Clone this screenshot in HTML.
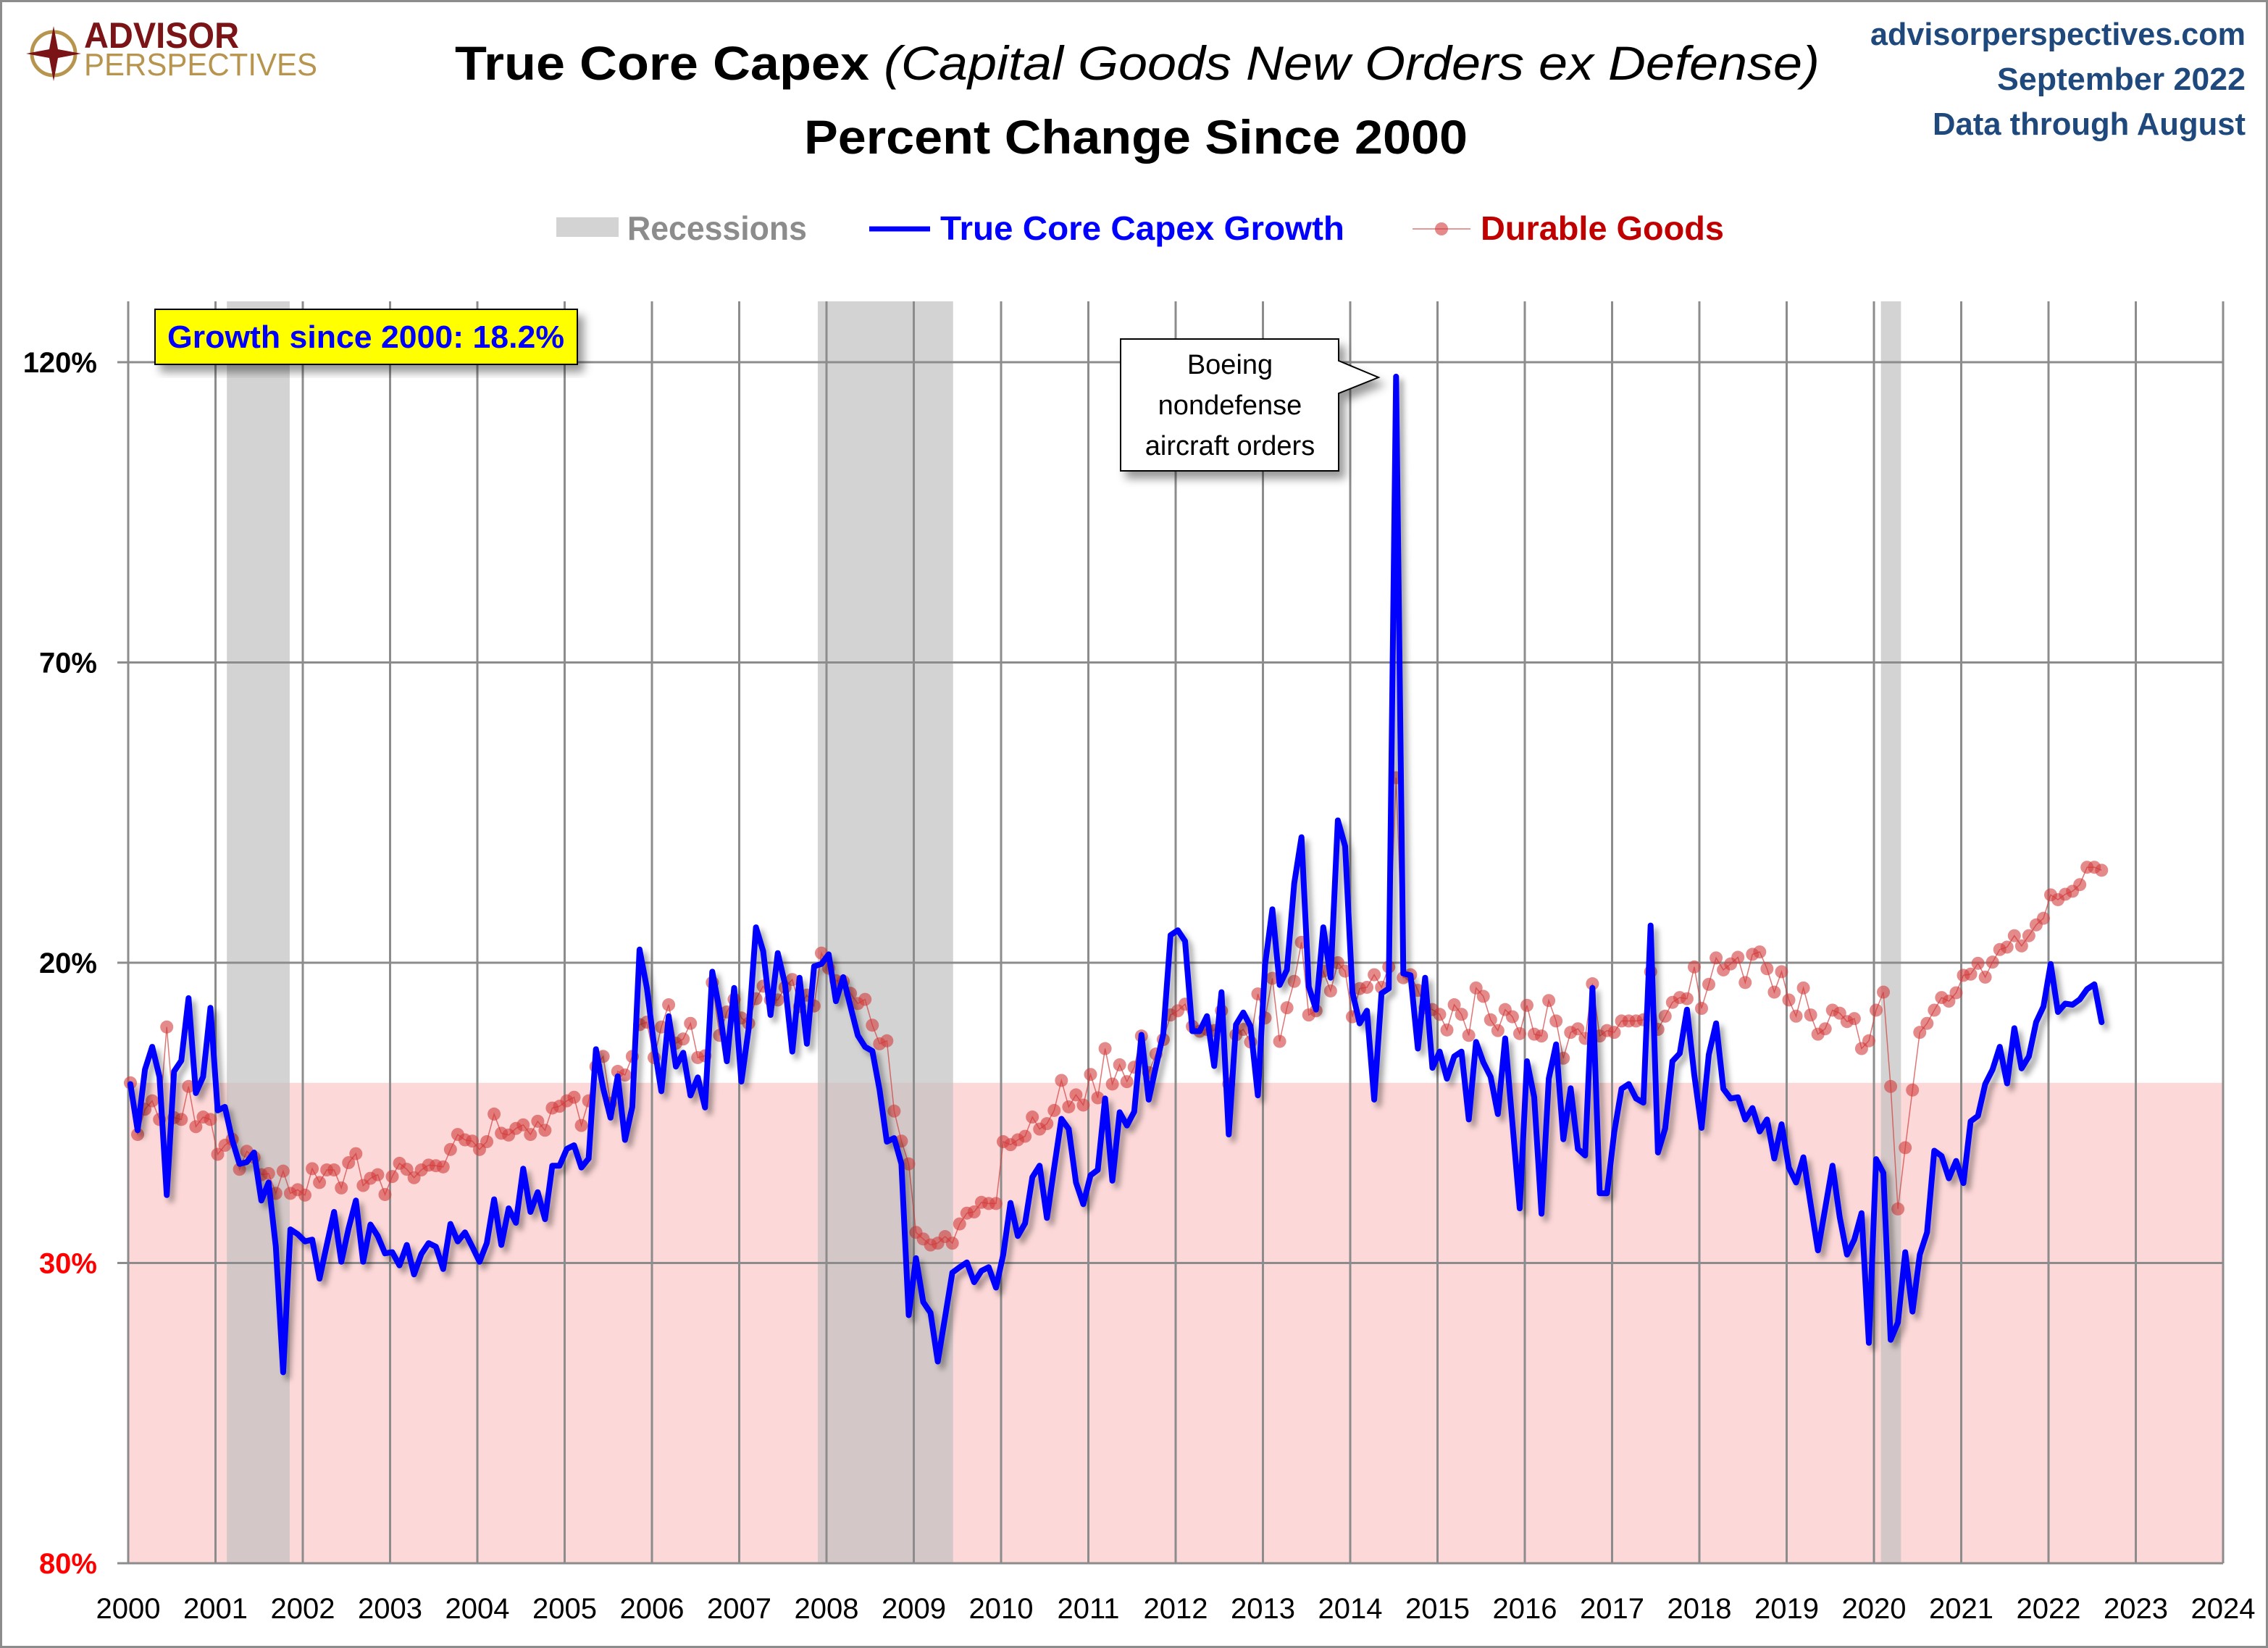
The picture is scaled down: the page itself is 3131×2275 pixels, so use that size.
<!DOCTYPE html>
<html><head><meta charset="utf-8"><title>True Core Capex</title>
<style>
html,body{margin:0;padding:0;background:#fff;}
svg{display:block;}
text{font-family:"Liberation Sans",sans-serif;}
</style></head>
<body>
<svg id="chart" xmlns="http://www.w3.org/2000/svg" width="3131" height="2275" viewBox="0 0 3131 2275">
<defs>
<filter id="shadow" x="-5%" y="-5%" width="110%" height="110%"><feDropShadow dx="6" dy="7" stdDeviation="4" flood-color="#000" flood-opacity="0.35"/></filter>
<filter id="boxshadow" x="-10%" y="-10%" width="125%" height="135%"><feDropShadow dx="8" dy="10" stdDeviation="6" flood-color="#000" flood-opacity="0.4"/></filter>
</defs>
<rect x="1.5" y="1.5" width="3128" height="2272" fill="#fff" stroke="#8c8c8c" stroke-width="3"/>
<g id="plot"></g>

<g>
<circle cx="74" cy="74" r="30" fill="none" stroke="#b8954f" stroke-width="5"/>
<polygon points="74,36 80,68 112,74 80,80 74,112 68,80 36,74 68,68" fill="#7a1416"/>
<text x="116" y="66" font-size="50" font-weight="bold" fill="#7a1416" textLength="214" lengthAdjust="spacingAndGlyphs">ADVISOR</text>
<text x="116" y="104" font-size="44" fill="#b8954f" textLength="322" lengthAdjust="spacingAndGlyphs">PERSPECTIVES</text>
</g>

<text x="1570" y="110" text-anchor="middle" font-size="66" textLength="1884" lengthAdjust="spacingAndGlyphs"><tspan font-weight="bold">True Core Capex </tspan><tspan font-style="italic">(Capital Goods New Orders ex Defense)</tspan></text>
<text x="1568" y="212" text-anchor="middle" font-size="66" font-weight="bold" textLength="916" lengthAdjust="spacingAndGlyphs">Percent Change Since 2000</text>

<text x="3100" y="62" text-anchor="end" font-size="44" font-weight="bold" fill="#1f497d" textLength="518" lengthAdjust="spacingAndGlyphs">advisorperspectives.com</text>
<text x="3100" y="124" text-anchor="end" font-size="44" font-weight="bold" fill="#1f497d" textLength="343" lengthAdjust="spacingAndGlyphs">September 2022</text>
<text x="3100" y="186" text-anchor="end" font-size="44" font-weight="bold" fill="#1f497d" textLength="432" lengthAdjust="spacingAndGlyphs">Data through August</text>

<g>
<g>
<rect x="768" y="300" width="86" height="27" fill="#d3d3d3"/>
<text x="866" y="331" font-size="46" font-weight="bold" fill="#8c8c8c" textLength="248" lengthAdjust="spacingAndGlyphs">Recessions</text>
</g>
<g>
<line x1="1200" y1="316" x2="1284" y2="316" stroke="#0000ff" stroke-width="7"/>
<text x="1298" y="331" font-size="46" font-weight="bold" fill="#0000ff" textLength="558" lengthAdjust="spacingAndGlyphs">True Core Capex Growth</text>
</g>
<g>
<line x1="1950" y1="316" x2="2030" y2="316" stroke="#d23c3c" stroke-width="1.5" opacity="0.7"/>
<circle cx="1990" cy="316" r="9" fill="#d23c3c" fill-opacity="0.6"/>
<text x="2044" y="331" font-size="46" font-weight="bold" fill="#c00000" textLength="336" lengthAdjust="spacingAndGlyphs">Durable Goods</text>
</g>
</g>
</svg>

<script>
const years = [2000,2001,2002,2003,2004,2005,2006,2007,2008,2009,2010,2011,2012,2013,2014,2015,2016,2017,2018,2019,2020,2021,2022,2023,2024];
const yTicks = [120,70,20,-30,-80];
const yTickLabels = ["120%","70%","20%","30%","80%"];
const recessions = [[2001.13,2001.85],[2007.9,2009.45],[2020.08,2020.31]];
const startYear = 2000;
const capexGrowth = [
-0.2,-7.9,2.2,6.0,1.0,-18.7,1.9,3.7,14.1,-1.7,1.0,12.5,
-4.6,-4.0,-9.5,-13.5,-13.2,-11.6,-19.6,-16.6,-27.3,-48.2,-24.4,-25.2,
-26.4,-26.1,-32.6,-27,-21.5,-29.8,-24.2,-19.6,-29.8,-23.6,-25.5,-28.4,
-28.2,-30.4,-27,-31.9,-28.5,-26.7,-27.3,-31,-23.5,-26.4,-24.9,-27.3,
-29.8,-26.7,-19.4,-27,-20.9,-23.3,-14.3,-21.5,-18.2,-22.7,-13.8,-13.8,
-11,-10.4,-14.1,-12.6,5.6,-0.9,-5.8,1.1,-9.5,-4.0,22.2,15.8,
6.2,-1.4,11.1,2.7,5.0,-2.1,0.9,-4.1,18.5,12.1,3.6,15.8,
0.2,9.0,25.9,21.9,11.3,21.6,16.4,5.2,17.5,6.5,19.4,19.8,
21.4,13.6,17.6,12.7,7.9,6.0,5.3,-1.2,-9.8,-9.2,-13.5,-38.7,
-29.2,-36.5,-38.3,-46.4,-39.0,-31.6,-30.7,-29.9,-33.2,-31.3,-30.7,-34.1,
-28.6,-20.0,-25.5,-23.4,-15.7,-13.8,-22.5,-14.1,-6.0,-7.7,-16.6,-20.2,
-15.4,-14.5,-2.6,-16.3,-4.9,-7.1,-4.8,8.0,-2.8,2.8,8.1,24.6,
25.4,23.6,8.6,8.6,11.1,2.8,15.1,-8.6,9.7,11.7,9.4,-2.1,
19.7,28.9,16.3,18.8,33.2,40.9,16.0,12.2,25.9,17.5,43.7,39.4,
15.1,9.9,12.0,-2.8,14.9,15.7,117.6,18.2,17.9,5.7,17.5,2.5,
5.2,0.7,4.4,5.2,-6.1,6.8,3.4,1.0,-5.2,7.4,-6.7,-20.9,
3.6,-2.4,-21.8,0.7,6.4,-9.4,-0.9,-11.0,-12.1,15.8,-18.4,-18.4,
-8.2,-1.0,-0.2,-2.6,-3.3,26.2,-11.6,-7.6,3.6,4.9,12.2,1.3,
-7.5,4.7,9.9,-1.0,-2.6,-2.4,-6.1,-4.2,-8.1,-6.1,-12.6,-6.9,
-14.1,-16.6,-12.4,-20.2,-27.9,-20.9,-13.8,-22.4,-28.6,-26.1,-21.7,-43.3,
-12.7,-15.0,-42.8,-39.9,-28.2,-38.1,-28.6,-24.9,-11.3,-12.2,-15.9,-13.0,
-16.7,-6.4,-5.5,-0.2,2.2,6.0,-0.1,9.1,2.4,4.4,10.1,12.7,
19.8,11.8,13.2,13.0,13.9,15.6,16.4,10.1
];
const durableGoods = [
0,-8.6,-4.4,-3.0,-6.1,9.3,-5.8,-6.1,-0.6,-7.3,-5.7,-6.1,
-11.9,-10.4,-9.4,-14.4,-11.4,-12.4,-15.3,-15.1,-18.4,-14.7,-18.4,-17.8,
-18.7,-14.3,-16.6,-14.5,-14.5,-17.5,-13.3,-11.8,-17.1,-15.9,-15.3,-18.6,
-15.6,-13.4,-14.4,-15.8,-14.5,-13.7,-13.8,-14,-11.1,-8.6,-9.5,-9.7,
-11.1,-9.8,-5.2,-8.4,-8.7,-7.6,-7.0,-8.6,-6.4,-7.9,-4.2,-3.9,
-3.0,-2.4,-7.1,-3.0,2.7,4.4,-3.4,1.9,1.3,4.4,9.7,10.1,
4.2,9.3,13.0,6.6,7.3,9.9,4.2,4.5,16.7,7.9,11.8,13.9,
10.8,9.9,14.0,16.1,13.8,13.8,15.9,17.2,12.7,14.6,12.8,21.6,
19.1,17.0,16.9,14.9,13.2,13.9,9.6,6.5,7.0,-4.7,-9.7,-13.5,
-24.9,-26.0,-27.0,-26.7,-25.6,-26.7,-23.5,-21.7,-21.5,-19.9,-20.1,-20.1,
-9.8,-10.3,-9.5,-8.9,-5.7,-7.7,-6.8,-4.6,0.4,-4.0,-2.0,-3.7,
1.4,-2.5,5.7,-0.2,3.0,0.2,2.6,7.8,1.7,4.8,7.2,11.3,
12.0,13.1,9.4,8.6,8.9,8.7,12.0,-0.2,8.0,8.9,6.8,14.8,
10.8,17.4,6.9,12.5,16.9,23.4,11.3,12.0,18.6,15.3,20.0,18.6,
11.0,15.7,15.9,18.0,15.9,19.3,50.8,17.5,18.0,15.4,12.5,12.2,
11.4,8.8,13.0,11.4,7.9,15.8,14.4,10.5,8.7,12.2,11.0,8.2,
12.9,8.1,7.8,13.7,10.3,4.1,8.4,9.0,7.4,16.5,7.8,8.7,
8.4,10.3,10.3,10.3,10.5,18.5,8.9,11.1,13.4,14.2,14.0,19.3,
12.4,16.4,20.8,18.8,19.8,20.9,16.7,21.4,21.8,19.0,15.1,18.5,
13.8,11.1,15.8,11.3,8.1,9.0,12.1,11.6,10.2,10.7,5.7,7.0,
12.1,15.1,-0.6,-21.0,-10.8,-1.2,8.4,9.9,12.1,14.2,13.6,15.0,
17.9,18.1,19.9,17.6,20.1,22.2,22.6,24.5,22.8,24.5,26.3,27.4,
31.3,30.5,31.4,31.9,33.0,35.9,35.9,35.4
];

const NS = "http://www.w3.org/2000/svg";
const plot = document.getElementById('plot');
const X0 = 177, XPY = 120.5, Y20 = 1329, YPP = 8.29;
const PT = 416, PB = 2158;
function xYear(y){ return X0 + (y - 2000) * XPY; }
function xIdx(i){ return xYear(startYear + i/12) + 3; }
function yVal(v){ return Y20 - (v - 20) * YPP; }
function mk(tag, attrs, parent){
  const e = document.createElementNS(NS, tag);
  for (const k in attrs) e.setAttribute(k, attrs[k]);
  (parent || plot).appendChild(e);
  return e;
}
const XL = xYear(2000), XR = xYear(2024);

// negative region
let neg = mk('rect', {x: XL, y: yVal(0), width: XR - XL, height: PB - yVal(0), fill: '#fdd8d8'});



// recessions
recessions.forEach(r => {
  const e = mk('rect', {x: xYear(r[0]), y: PT, width: xYear(r[1]) - xYear(r[0]), height: PB - PT, fill: '#c0c0c0', 'fill-opacity': 0.7});
  
  
});

// grid
years.forEach(y => {
  const e = mk('line', {x1: xYear(y), x2: xYear(y), y1: PT, y2: PB, stroke: '#8c8c8c', 'stroke-width': 3});
  
  
  const t = mk('text', {x: xYear(y), y: 2234, 'text-anchor': 'middle', 'font-size': 40, fill: '#000'});
  t.textContent = y;
  
  
});
yTicks.forEach((v, k) => {
  const e = mk('line', {x1: 162, x2: XR, y1: yVal(v), y2: yVal(v), stroke: '#8c8c8c', 'stroke-width': 3});
  
  
  const t = mk('text', {x: 134, y: yVal(v) + 14, 'text-anchor': 'end', 'font-size': 40, 'font-weight': 'bold', fill: v < 0 ? '#ff0000' : '#000'});
  t.textContent = yTickLabels[k];
  
  
});

// durable goods series
const dPts = durableGoods.map((v, i) => xIdx(i).toFixed(1) + ',' + yVal(v).toFixed(1)).join(' ');
const dl = mk('polyline', {points: dPts, fill: 'none', stroke: '#d23c3c', 'stroke-width': 1.5, 'stroke-opacity': 0.7});


const dg = mk('g', {fill: '#d23c3c', 'fill-opacity': 0.6});


durableGoods.forEach((v, i) => {
  const c = mk('circle', {cx: xIdx(i), cy: yVal(v), r: 9}, dg);
  
  
});

// capex series
const cPts = capexGrowth.map((v, i) => xIdx(i).toFixed(1) + ',' + yVal(v).toFixed(1)).join(' ');
const cl = mk('polyline', {points: cPts, fill: 'none', stroke: '#0000ff', 'stroke-width': 8, 'stroke-linejoin': 'round', 'stroke-linecap': 'round', filter: 'url(#shadow)'});



// growth box
const gb = mk('g', {});


mk('rect', {x: 214, y: 427, width: 583, height: 76, fill: '#ffff00', stroke: '#000', 'stroke-width': 2, filter: 'url(#boxshadow)'}, gb);
const gt = mk('text', {x: 505, y: 480, 'text-anchor': 'middle', 'font-size': 44, 'font-weight': 'bold', fill: '#0000ff', textLength: 548, lengthAdjust: 'spacingAndGlyphs'}, gb);
gt.textContent = 'Growth since 2000:  18.2%';

// annotation callout
const an = mk('g', {});


mk('path', {d: 'M1547,468 L1848,468 L1848,498 L1903,521 L1848,543 L1848,650 L1547,650 Z', fill: '#fff', stroke: '#000', 'stroke-width': 2, filter: 'url(#boxshadow)'}, an);
['Boeing', 'nondefense', 'aircraft orders'].forEach((s, k) => {
  const t = mk('text', {x: 1698, y: 516 + k * 56, 'text-anchor': 'middle', 'font-size': 38, fill: '#000'}, an);
  t.textContent = s;
});
// plot bottom axis
const ax = mk('line', {x1: 162, x2: XR, y1: PB, y2: PB, stroke: '#8c8c8c', 'stroke-width': 3});


</script>
</body></html>
